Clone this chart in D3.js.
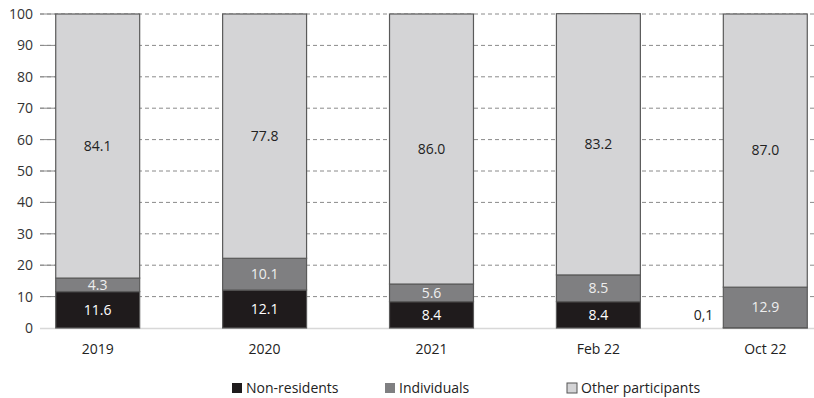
<!DOCTYPE html>
<html><head><meta charset="utf-8">
<script src="https://cdn.jsdelivr.net/npm/d3@7"></script>
<style>body{margin:0;background:#fff;} text{font-family:"Open Sans","Noto Sans",sans-serif;}</style>
</head><body>
<svg id="c" width="814" height="398"></svg>
<script>
const categories = ["2019","2020","2021","Feb 22","Oct 22"];
const nonResidents = [11.6, 12.1, 8.4, 8.4, 0.1];
const individuals = [4.3, 10.1, 5.6, 8.5, 12.9];
const otherParticipants = [84.1, 77.8, 86.0, 83.2, 87.0];
const nonResidentLabels = ["11.6","12.1","8.4","8.4","0,1"];
const individualLabels = ["4.3","10.1","5.6","8.5","12.9"];
const otherLabels = ["84.1","77.8","86.0","83.2","87.0"];
const yTicks = [0,10,20,30,40,50,60,70,80,90,100];
const seriesNames = ["Non-residents","Individuals","Other participants"];
const colors = ["#1f1b1c","#7f7f81","#d4d4d6"];

const svg = d3.select("#c");
const x = d3.scaleBand().domain(categories).range([14, 849]).paddingInner(0.497).paddingOuter(0.25);
const y = d3.scaleLinear().domain([0,100]).range([328, 14]);

// gridlines
svg.append("g").selectAll("line").data(yTicks.filter(d=>d>0)).join("line")
  .attr("x1", 40).attr("x2", 814).attr("y1", d=>y(d)).attr("y2", d=>y(d))
  .attr("stroke", "#8a8a8a").attr("stroke-width", 1).attr("stroke-dasharray", "4,3");
// solid tick segments
svg.append("g").selectAll("line").data(yTicks.filter(d=>d>0)).join("line")
  .attr("x1", 40).attr("x2", x(categories[0])).attr("y1", d=>y(d)).attr("y2", d=>y(d))
  .attr("stroke", "#8a8a8a").attr("stroke-width", 1);
// baseline
svg.append("line").attr("x1", 40).attr("x2", 814).attr("y1", y(0)+0.5).attr("y2", y(0)+0.5)
  .attr("stroke", "#d8d8d8").attr("stroke-width", 1.5);

// y labels
svg.append("g").selectAll("text").data(yTicks).join("text")
  .attr("x", 33).attr("y", d=>y(d)).attr("dy", "0.35em").attr("text-anchor", "end")
  .attr("font-size", 14).attr("fill", "#333").text(d=>d);

const table = categories.map((c,i)=>({cat:c, v:[nonResidents[i], individuals[i], otherParticipants[i]],
  l:[nonResidentLabels[i], individualLabels[i], otherLabels[i]]}));
const stack = d3.stack().keys([0,1,2]).value((d,k)=>d.v[k]);
const series = stack(table);

series.forEach((s, k) => {
  svg.append("g").selectAll("rect").data(s).join("rect")
    .attr("x", d=>x(d.data.cat)).attr("width", x.bandwidth())
    .attr("y", d=>y(d[1])).attr("height", d=>y(d[0])-y(d[1]))
    .attr("fill", colors[k]).attr("stroke", "#5a5a5a").attr("stroke-width", 1.2);
});

series.forEach((s, k) => {
  svg.append("g").selectAll("text").data(s).join("text")
    .attr("x", d => (d.data.v[k] < 1 ? x(d.data.cat) - 10 : x(d.data.cat) + x.bandwidth()/2))
    .attr("y", d => (d.data.v[k] < 1 ? y(4) : y((d[0]+d[1])/2)))
    .attr("dy", "0.35em")
    .attr("text-anchor", d => d.data.v[k] < 1 ? "end" : "middle")
    .attr("font-size", 14)
    .attr("fill", d => (d.data.v[k] < 1 || k === 2) ? "#222" : (k===1 ? "#eee" : "#fff"))
    .text(d => d.data.l[k]);
});

// x labels
svg.append("g").selectAll("text").data(categories).join("text")
  .attr("x", d=>x(d)+x.bandwidth()/2).attr("y", 349).attr("dy","0.35em").attr("text-anchor","middle")
  .attr("font-size", 14).attr("fill", "#222").text(d=>d);

// legend
const legX = [232, 385, 567];
seriesNames.forEach((n,i)=>{
  const g = svg.append("g").attr("transform", `translate(${legX[i]},388)`);
  g.append("rect").attr("x",0).attr("y",-5).attr("width",10).attr("height",10)
    .attr("fill", colors[i]).attr("stroke", i===2 ? "#555" : "none").attr("stroke-width", 1);
  g.append("text").attr("x", 14).attr("y", 0).attr("dy","0.35em").attr("font-size", 14)
    .attr("fill","#222").text(n);
});
</script>
</body></html>
